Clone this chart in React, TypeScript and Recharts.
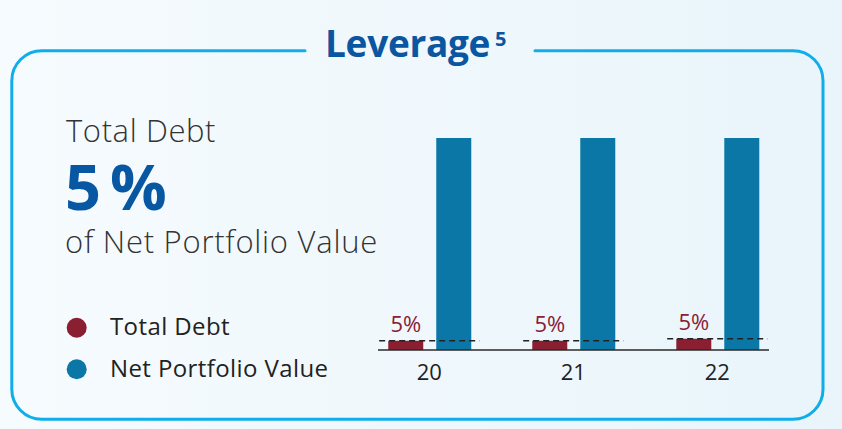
import React from "react";
import { BarChart, Bar, XAxis, YAxis, ReferenceLine, LabelList } from "recharts";

const years = ["20", "21", "22"];
const totalDebt = [4.4, 4.4, 5.3];
const netPortfolioValue = [100, 100, 100];
const debtLabels = ["5%", "5%", "5%"];

const data = years.map((y, i) => ({
  x: i,
  year: y,
  debt: totalDebt[i],
  npv: netPortfolioValue[i],
  debtLabel: debtLabels[i],
}));

const FONT = "'Open Sans', 'Noto Sans', sans-serif";
const DEBT = "#8a1f32";
const NPV = "#0b77a6";

export default function App() {
  const r = 30;
  const L = 11.8, T = 50.7, R = 823, B = 419.3;
  const border = `M 305 ${T} L ${L + r} ${T} A ${r} ${r} 0 0 0 ${L} ${T + r} L ${L} ${B - r} A ${r} ${r} 0 0 0 ${L + r} ${B} L ${R - r} ${B} A ${r} ${r} 0 0 0 ${R} ${B - r} L ${R} ${T + r} A ${r} ${r} 0 0 0 ${R - r} ${T} L 535 ${T}`;
  return (
    <div
      style={{
        position: "absolute",
        left: 0,
        top: 0,
        width: 842,
        height: 429,
        background: "linear-gradient(90deg, #f6fbfe 0%, #eef7fc 60%, #e9f5fb 100%)",
        fontFamily: FONT,
        overflow: "hidden",
      }}
    >
      <svg width={842} height={429} style={{ position: "absolute", left: 0, top: 0 }}>
        <path d={border} fill="none" stroke="#0faeea" strokeWidth={3} strokeLinecap="round" />
        <text x={325} y={56.7} fontFamily={FONT} fontSize={37} fontWeight={700} fill="#0b56a0" letterSpacing={-0.3}>
          Leverage
        </text>
        <text x={495} y={45.5} fontFamily={FONT} fontSize={20} fontWeight={700} fill="#0b56a0">
          5
        </text>
        <text x={66} y={141.5} fontFamily={FONT} fontSize={31} fontWeight={300} fill="#333333" letterSpacing={0.6}>
          Total Debt
        </text>
        <text x={65} y={210} fontFamily={FONT} fontSize={63} fontWeight={700} fill="#0757a3" letterSpacing={9}>
          5%
        </text>
        <text x={65} y={253} fontFamily={FONT} fontSize={31} fontWeight={300} fill="#333333" letterSpacing={0.75}>
          of Net Portfolio Value
        </text>
        <circle cx={76.7} cy={327.7} r={10} fill={DEBT} />
        <circle cx={76.7} cy={369.3} r={10} fill={NPV} />
        <text x={110} y={335} fontFamily={FONT} fontSize={24} fill="#222222" letterSpacing={0.4}>
          Total Debt
        </text>
        <text x={110} y={376.7} fontFamily={FONT} fontSize={24} fill="#222222" letterSpacing={0.4}>
          Net Portfolio Value
        </text>
      </svg>
      <div style={{ position: "absolute", left: 0, top: 0 }}>
        <BarChart
          width={842}
          height={429}
          data={data}
          margin={{ top: 138, right: 73, bottom: 49, left: 378 }}
          barSize={35}
          barGap={13}
        >
          <XAxis
            dataKey="x"
            type="number"
            domain={[-0.356, 2.359]}
            allowDataOverflow
            ticks={[0, 1, 2]}
            tickFormatter={(v: number) => years[v] ?? ""}
            height={30}
            tickSize={0}
            tickMargin={14}
            axisLine={{ stroke: "#2a2a2a", strokeWidth: 1.5 }}
            tickLine={false}
            tick={{ fill: "#222222", fontSize: 22, fontFamily: FONT }}
          />
          <YAxis hide type="number" domain={[0, 100]} />
          <Bar dataKey="debt" fill={DEBT} isAnimationActive={false}>
            <LabelList
              dataKey="debtLabel"
              position="top"
              offset={9}
              fill="#8b2035"
              fontSize={22}
              fontFamily={FONT}
            />
          </Bar>
          <Bar dataKey="npv" fill={NPV} isAnimationActive={false} />
          {data.map((d) => (
            <ReferenceLine
              key={d.year}
              segment={[
                { x: d.x - 0.348, y: d.debt },
                { x: d.x + 0.348, y: d.debt },
              ]}
              stroke="#222222"
              strokeWidth={1.5}
              strokeDasharray="6 4"
              ifOverflow="visible"
            />
          ))}
        </BarChart>
      </div>
    </div>
  );
}
